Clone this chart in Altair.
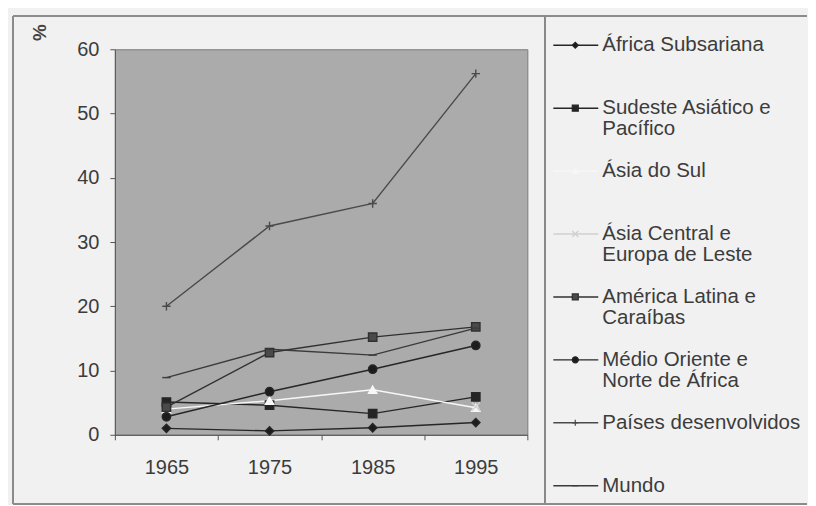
import altair as alt
import pandas as pd

years = [1965, 1975, 1985, 1995]
series = [
    "África Subsariana",
    "Sudeste Asiático e Pacífico",
    "Ásia do Sul",
    "Ásia Central e Europa de Leste",
    "América Latina e Caraíbas",
    "Médio Oriente e Norte de África",
    "Países desenvolvidos",
    "Mundo",
]
legend_labels = [
    "África Subsariana",
    "Sudeste Asiático e\nPacífico",
    "Ásia do Sul",
    "Ásia Central e\nEuropa de Leste",
    "América Latina e\nCaraíbas",
    "Médio Oriente e\nNorte de África",
    "Países desenvolvidos",
    "Mundo",
]
africa_subsariana = [1.0, 0.6, 1.1, 1.9]
sudeste_asiatico = [5.1, 4.6, 3.3, 5.9]
asia_sul = [4.0, 5.3, 7.0, 4.2]
asia_central = [None, None, None, 4.4]
america_latina = [4.3, 12.8, 15.2, 16.8]
medio_oriente = [2.8, 6.7, 10.2, 13.9]
paises_desenvolvidos = [20.0, 32.5, 36.0, 56.2]
mundo = [8.9, 13.3, 12.4, 16.6]
all_values = [africa_subsariana, sudeste_asiatico, asia_sul, asia_central,
              america_latina, medio_oriente, paises_desenvolvidos, mundo]

y_ticks = [0, 10, 20, 30, 40, 50, 60]
x_ticks = [1960, 1970, 1980, 1990, 2000]

rows = []
for s, vals in zip(series, all_values):
    for yr, v in zip(years, vals):
        rows.append({"series": s, "year": yr, "value": v})
df = pd.DataFrame(rows)
leg_df = pd.DataFrame({"series": series, "label": legend_labels})

FONT = "Liberation Sans"
TXT = "#3c3c3c"

stroke_colors = ["#262626", "#262626", "#f7f7f7", "#cfcfcf",
                 "#303030", "#262626", "#4a4a4a", "#3a3a3a"]
fill_colors = ["#1c1c1c", "#242424", "#f7f7f7", "#cfcfcf",
               "#4a4a4a", "#1c1c1c", "#4a4a4a", "#3a3a3a"]
shapes = ["diamond", "square", "triangle-up", "M-1,-1L1,1M-1,1L1,-1",
          "square", "circle", "M-1,0L1,0M0,-1L0,1", "M-1,0L1,0"]

stroke_scale = alt.Scale(domain=series, range=stroke_colors)
fill_scale = alt.Scale(domain=series, range=fill_colors)
shape_scale = alt.Scale(domain=series, range=shapes)

x_enc = alt.X(
    "year:Q",
    scale=alt.Scale(domain=[1960, 2000], nice=False, zero=False),
    axis=alt.Axis(
        values=x_ticks, title=None, grid=False,
        labelExpr="datum.value < 2000 ? toString(datum.value + 5) : ''",
        labelOffset=51.6, labelFlush=False, labelPadding=18,
        labelFont=FONT, labelFontSize=20, labelColor=TXT,
        tickSize=5, tickColor="#555", domainColor="#555",
    ),
)
y_enc = alt.Y(
    "value:Q",
    scale=alt.Scale(domain=[0, 60], nice=False),
    axis=alt.Axis(
        values=y_ticks, title="%", grid=False,
        labelFont=FONT, labelFontSize=20, labelColor=TXT, labelPadding=11,
        tickSize=5, tickColor="#555", domainColor="#555",
        titleFont=FONT, titleFontSize=19, titleColor="#444", titleFontWeight="bold",
        titleAngle=90, titleX=-76, titleY=-17, titleAlign="center", titleBaseline="middle",
    ),
)

base = alt.Chart(df)
lines = base.mark_line(strokeWidth=1.4).encode(
    x=x_enc, y=y_enc,
    stroke=alt.Stroke("series:N", scale=stroke_scale, legend=None),
    detail="series:N",
)
points = base.mark_point(size=70, strokeWidth=1.4, opacity=1).encode(
    x="year:Q", y="value:Q",
    shape=alt.Shape("series:N", scale=shape_scale, legend=None),
    fill=alt.Fill("series:N", scale=fill_scale, legend=None),
    stroke=alt.Stroke("series:N", scale=stroke_scale, legend=None),
)

FR = "#8c8c8c"
RIGHT = 693
frame_left = alt.Chart(df).mark_rule(color=FR, strokeWidth=1).encode(
    x=alt.value(-102), y=alt.value(-33), y2=alt.value(455))
frame_top = alt.Chart(df).mark_rule(color=FR, strokeWidth=1).encode(
    x=alt.value(-102), x2=alt.value(RIGHT), y=alt.value(-33))
frame_bottom = alt.Chart(df).mark_rule(color=FR, strokeWidth=1).encode(
    x=alt.value(-102), x2=alt.value(RIGHT), y=alt.value(455))
divider = alt.Chart(df).mark_rule(color=FR, strokeWidth=1).encode(
    x=alt.value(431), y=alt.value(-33), y2=alt.value(455))

# legend drawn from its own small table, placed by an independent point scale
leg_y = alt.Y("series:N", scale=alt.Scale(type="point", domain=series, range=[-4, 437], padding=0),
              axis=None)
leg_base = alt.Chart(leg_df)
leg_line = leg_base.mark_rule(strokeWidth=1.4).encode(
    x=alt.value(439), x2=alt.value(484), y=leg_y,
    stroke=alt.Stroke("series:N", scale=stroke_scale, legend=None),
)
leg_pt = leg_base.mark_point(size=36, strokeWidth=1.2, opacity=1).encode(
    x=alt.value(461), y=leg_y,
    shape=alt.Shape("series:N", scale=shape_scale, legend=None),
    fill=alt.Fill("series:N", scale=fill_scale, legend=None),
    stroke=alt.Stroke("series:N", scale=stroke_scale, legend=None),
)
leg_txt = leg_base.mark_text(
    align="left", baseline="top", dy=-10, lineBreak="\n", lineHeight=21,
    font=FONT, fontSize=20.5, color=TXT,
).encode(x=alt.value(488), y=leg_y, text="label:N")

legend_layer = alt.layer(leg_line, leg_pt, leg_txt)
plot_layer = alt.layer(frame_left, frame_top, frame_bottom, divider, lines, points)

chart = alt.layer(plot_layer, legend_layer).resolve_scale(y="independent").properties(
    width=413, height=386,
    view=alt.ViewBackground(fill="#ababab", stroke="#7a7a7a", strokeWidth=1),
    padding={"left": 4, "top": 7, "right": 0, "bottom": 0},
    background="#f1f1f1",
)

chart.save("out.html", embed_options={"renderer": "svg", "actions": False})
